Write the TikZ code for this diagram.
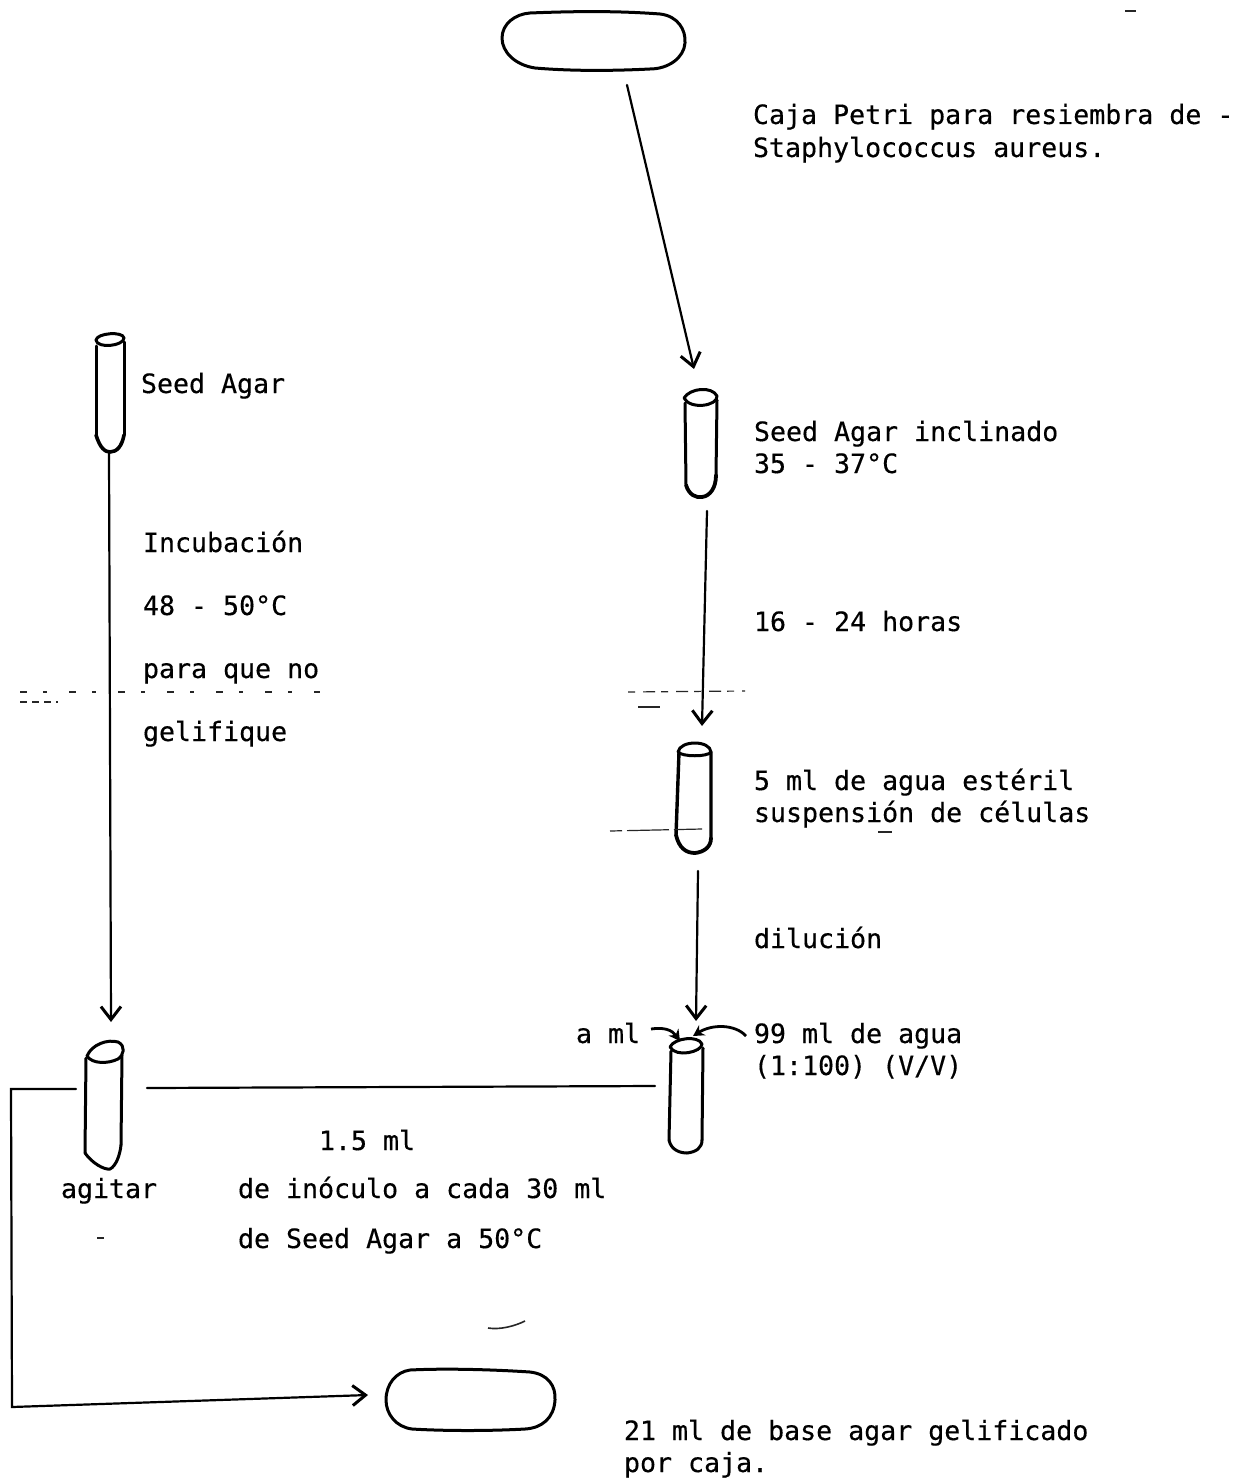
\documentclass[tikz,border=0pt]{standalone}
\usepackage{fontspec}
\setmainfont[FakeBold=0.35]{DejaVu Sans Mono}
\usetikzlibrary{arrows.meta}
\tikzset{
  x=1pt,y=-1pt,
  lbl/.style={anchor=base west,inner sep=0pt,outer sep=0pt,font=\fontsize{26.6}{30}\selectfont,text=black},
  ink/.style={draw=black,line width=3pt,line join=round,line cap=round},
  conn/.style={draw=black,line width=2.2pt,line cap=round},
  arrowed/.style={conn,-{Straight Barb[length=13pt,width=20pt,line width=3pt]}},
  smallarrow/.style={draw=black,line width=2.8pt,-{Stealth[length=11pt,width=12pt]}},
  speck/.style={draw=black!85,line width=1.2pt},
}
\begin{document}
\begin{tikzpicture}
\useasboundingbox (0,0) rectangle (1245,1479);
\fill[white] (0,0) rectangle (1245,1479);

% Petri dishes
\draw[ink] (530,13) .. controls (580,11) and (620,11) .. (660,14) .. controls (678,16) and (686,30) .. (685,43) .. controls (684,58) and (668,69) .. (650,69) .. controls (610,71) and (570,71) .. (535,68) .. controls (515,65) and (502,52) .. (502,38) .. controls (502,24) and (515,14) .. (530,13) -- cycle;
\draw[ink] (410,1370) .. controls (450,1368) and (500,1370) .. (530,1372) .. controls (548,1374) and (556,1386) .. (555,1400) .. controls (554,1418) and (542,1428) .. (525,1429) .. controls (490,1431) and (445,1431) .. (412,1429) .. controls (396,1427) and (386,1414) .. (386,1400) .. controls (386,1384) and (396,1372) .. (410,1370) -- cycle;

% Tube A (left top)
\draw[ink] (96,346) -- (96,435) (124,342) -- (124,435);
\draw[ink,line width=3.6pt] (96,435) .. controls (100,448) and (105,452) .. (110,452) .. controls (117,452) and (122,446) .. (124,435);
\draw[ink] (96,340) .. controls (97,333) and (123,331) .. (124,338) .. controls (124,346) and (97,349) .. (96,340) -- cycle;
% Tube B
\draw[ink] (685,403) -- (686,485) (717,400) -- (716,475);
\draw[ink,line width=3.8pt] (686,485) .. controls (689,495) and (696,498) .. (702,497) .. controls (710,496) and (716,488) .. (716,475);
\draw[ink] (684,398) .. controls (690,388) and (712,386) .. (717,396) .. controls (718,406) and (690,410) .. (684,398) -- cycle;
% Tube C
\draw[ink,line width=3.4pt] (679,752) -- (676,835) (711,752) -- (711,838);
\draw[ink,line width=3.8pt] (676,835) .. controls (679,848) and (686,853) .. (695,853) .. controls (704,852) and (711,847) .. (711,838);
\draw[ink] (678,752) .. controls (680,740) and (710,740) .. (711,752) .. controls (708,757) and (682,757) .. (678,752) -- cycle;
% Tube D (left bottom)
\draw[ink] (86,1058) -- (85,1153) (122,1055) -- (121,1145);
\draw[ink] (85,1153) .. controls (92,1163) and (104,1170) .. (110,1169) .. controls (116,1166) and (120,1155) .. (121,1145);
\draw[ink] (87,1056) .. controls (92,1044) and (108,1039) .. (118,1042) .. controls (126,1046) and (124,1055) .. (118,1059) .. controls (108,1064) and (92,1064) .. (87,1056) -- cycle;
% Tube E
\draw[ink] (671,1051) -- (669,1140) (703,1048) -- (702,1140);
\draw[ink] (669,1140) .. controls (671,1150) and (680,1153) .. (687,1153) .. controls (696,1152) and (702,1148) .. (702,1140);
\draw[ink] (670,1047) .. controls (674,1038) and (698,1035) .. (702,1044) .. controls (702,1052) and (676,1058) .. (670,1047) -- cycle;

% Named ends of the connectors
\coordinate (petriOut) at (627,85);
\coordinate (tubeBIn) at (694,369);
\coordinate (tubeBOut) at (707,511);
\coordinate (tubeCIn) at (702,726);
\coordinate (tubeCOut) at (698,871);
\coordinate (tubeEIn) at (696,1021);
\coordinate (tubeAOut) at (109,452);
\coordinate (tubeDIn) at (111,1022);
\coordinate (tubeERight) at (655,1086);
\coordinate (tubeDRight) at (147,1088);
\coordinate (tubeDLeft) at (76,1089);
\coordinate (cornerTop) at (11,1089);
\coordinate (cornerBottom) at (12,1407);
\coordinate (petriIn) at (368,1395);
\coordinate (aStart) at (651,1029);
\coordinate (aEnd) at (680,1041);
\coordinate (bStart) at (746,1036);
\coordinate (bEnd) at (693,1036);

% Connectors
\draw[arrowed] (petriOut) -- (tubeBIn);
\draw[arrowed] (tubeBOut) -- (tubeCIn);
\draw[arrowed] (tubeCOut) -- (tubeEIn);
\draw[arrowed] (tubeAOut) -- (tubeDIn);
\draw[conn] (tubeERight) -- (tubeDRight);
\draw[arrowed] (tubeDLeft) -- (cornerTop) -- (cornerBottom) -- (petriIn);
\draw[smallarrow] (aStart) .. controls (664,1027) and (672,1030) .. (aEnd);
\draw[smallarrow] (bStart) .. controls (735,1024) and (712,1024) .. (bEnd);

% Labels
\node[lbl] (t1) at (753,124) {Caja Petri para resiembra de -};
\node[lbl] (t2) at (753,157) {Staphylococcus aureus.};
\node[lbl] (t3) at (141,393) {Seed Agar};
\node[lbl] (t4) at (143,552) {Incubación};
\node[lbl] (t5) at (143,615) {48 - 50°C};
\node[lbl] (t6) at (143,678) {para que no};
\node[lbl] (t7) at (143,741) {gelifique};
\node[lbl] (t8) at (754,441) {Seed Agar inclinado};
\node[lbl] (t9) at (754,473) {35 - 37°C};
\node[lbl] (t10) at (754,631) {16 - 24 horas};
\node[lbl] (t11) at (754,790) {5 ml de agua estéril};
\node[lbl] (t12) at (754,822) {suspensión de células};
\node[lbl] (t13) at (754,948) {dilución};
\node[lbl] (t14) at (576,1043) {a ml};
\node[lbl] (t15) at (754,1043) {99 ml de agua};
\node[lbl] (t16) at (754,1075) {(1:100) (V/V)};
\node[lbl] (t17) at (319,1150) {1.5 ml};
\node[lbl] (t18) at (61,1198) {agitar};
\node[lbl] (t19) at (238,1198) {de inóculo a cada 30 ml};
\node[lbl] (t20) at (238,1248) {de Seed Agar a 50°C};
\node[lbl] (t21) at (624,1440) {21 ml de base agar gelificado};
\node[lbl] (t22) at (624,1472) {por caja.};

% Scan marks
\draw[speck,dash pattern=on 7pt off 16pt on 4pt off 22pt] (20,692) -- (320,692);
\draw[speck,dash pattern=on 7pt off 5pt] (20,702) -- (58,702);
\draw[speck,dash pattern=on 7pt off 8pt on 12pt off 6pt] (628,692) -- (745,691);
\draw[speck,line width=2pt] (638,707) -- (660,707);
\draw[speck,dash pattern=on 12pt off 5pt on 30pt off 0pt] (610,831) -- (702,829);
\draw[speck] (878,832) -- (892,832);
\draw[speck,line width=2pt] (97,1238) -- (104,1238);
\draw[speck,line width=1.6pt] (1125,11) -- (1136,11);
\draw[speck,line width=1.6pt] (488,1328) .. controls (500,1330) and (515,1326) .. (525,1321);
\end{tikzpicture}
\end{document}
